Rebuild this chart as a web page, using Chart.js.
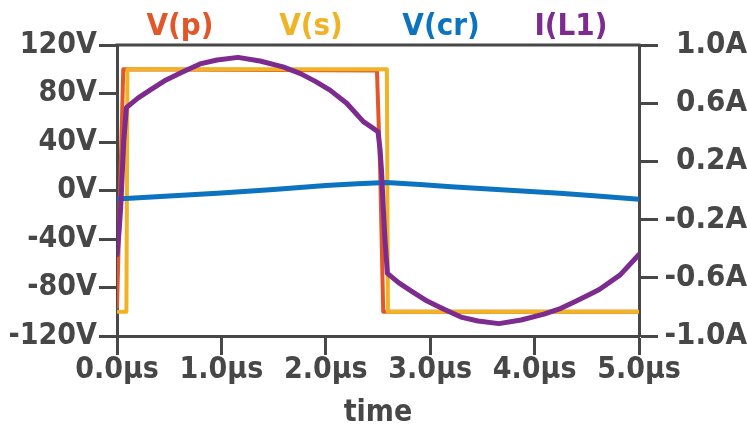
<!DOCTYPE html>
<html>
<head>
<meta charset="utf-8">
<script src="https://cdn.jsdelivr.net/npm/chart.js@4/dist/chart.umd.min.js"></script>
<style>
  html, body { margin: 0; background: #fff; }
  #wrap { width: 747px; height: 429px; }
</style>
</head>
<body>
<div id="wrap"><canvas class="js-chart" width="747" height="429"></canvas></div>
<script>
const FONT = "'DejaVu Sans Condensed', 'DejaVu Sans', sans-serif";
const INK = "#474747";

const SERIES_NAMES = ["V(p)", "V(s)", "V(cr)", "I(L1)"];
const SERIES_COLORS = ["#e2572a", "#f0b325", "#0c73bf", "#7d2b8f"];

// primary winding voltage (V)
const vpTime = [0, 0.03, 0.06, 2.49, 2.52, 2.55, 5.0];
const vpVolts = [-96, 0, 100, 99, 20, -100, -100];

// secondary voltage (V)
const vsTime = [0, 0.09, 0.1, 2.585, 2.595, 5.0];
const vsVolts = [-100, -100, 100, 100, -100, -100];

// resonant cap voltage (V)
const vcrTime = [0, 0.5, 1.0, 1.5, 2.0, 2.3, 2.58, 2.9, 3.2, 3.6, 4.0, 4.24, 4.6, 5.0];
const vcrVolts = [-7, -4.6, -2, 0.8, 4.2, 5.5, 6.5, 5, 3, 1, -1, -2.3, -4.6, -7.3];

// inductor current (A)
const ilTime = [0, 0.02, 0.035, 0.05, 0.065, 0.09, 0.2, 0.316, 0.47, 0.632, 0.795, 0.958, 1.159,
  1.37, 1.59, 1.753, 1.9, 2.04, 2.2, 2.36, 2.455, 2.5, 2.52, 2.535, 2.55, 2.567, 2.59,
  2.7, 2.816, 2.97, 3.132, 3.295, 3.458, 3.659, 3.87, 4.09, 4.253, 4.4, 4.54, 4.62, 4.82, 5.0];
const ilAmps = [-0.44, -0.28, -0.12, 0.11, 0.34, 0.57, 0.635, 0.69, 0.76, 0.816, 0.87, 0.897, 0.915,
  0.89, 0.85, 0.805, 0.75, 0.69, 0.6, 0.473, 0.427, 0.404, 0.28, 0.12, -0.11, -0.34, -0.57,
  -0.635, -0.69, -0.76, -0.816, -0.87, -0.897, -0.915, -0.89, -0.85, -0.81, -0.76, -0.71, -0.68, -0.58, -0.44];

const timeTicks = [0, 1, 2, 3, 4, 5];
const voltTicks = [-120, -80, -40, 0, 40, 80, 120];
const ampTicks = [-1.0, -0.6, -0.2, 0.2, 0.6, 1.0];

// where each trace name sits along the top
const legendCenters = [180, 311, 441, 571];

const ctx = document.querySelector(".js-chart").getContext("2d");

Chart.defaults.font.family = FONT;
Chart.defaults.font.weight = "bold";
Chart.defaults.font.size = 30;
Chart.defaults.color = INK;

function points(xs, ys) {
  return xs.map((x, i) => ({ x, y: ys[i] }));
}

function fixedTicks(values) {
  return (axis) => {
    axis.ticks = values.map((value) => ({ value }));
  };
}

// legend text in trace colours, spread across the top
const traceLegend = {
  id: "traceLegend",
  afterDraw(chart) {
    const { ctx } = chart;
    ctx.save();
    ctx.font = `bold 31px ${FONT}`;
    ctx.textBaseline = "alphabetic";
    ctx.textAlign = "center";
    chart.data.datasets.forEach((d, i) => {
      ctx.fillStyle = d.borderColor;
      ctx.fillText(d.label, legendCenters[i], 35);
    });
    ctx.restore();
  },
};

// top edge of the plot box
const topEdge = {
  id: "topEdge",
  beforeDatasetsDraw(chart) {
    const { ctx, chartArea } = chart;
    ctx.save();
    ctx.strokeStyle = INK;
    ctx.lineWidth = 3;
    ctx.beginPath();
    ctx.moveTo(chartArea.left - 1.5, chartArea.top);
    ctx.lineTo(chartArea.right + 1.5, chartArea.top);
    ctx.stroke();
    ctx.restore();
  },
};

const axisGrid = (len) => ({
  drawOnChartArea: false,
  drawTicks: true,
  tickLength: len,
  tickWidth: 3,
  tickColor: INK,
});
const axisBorder = { display: true, width: 3, color: INK };

new Chart(ctx, {
  type: "line",
  data: {
    datasets: [
      {
        label: SERIES_NAMES[0],
        data: points(vpTime, vpVolts),
        borderColor: SERIES_COLORS[0],
        borderWidth: 4,
        yAxisID: "y",
        order: 4,
      },
      {
        label: SERIES_NAMES[1],
        data: points(vsTime, vsVolts),
        borderColor: SERIES_COLORS[1],
        borderWidth: 4,
        yAxisID: "y",
        order: 3,
      },
      {
        label: SERIES_NAMES[2],
        data: points(vcrTime, vcrVolts),
        borderColor: SERIES_COLORS[2],
        borderWidth: 5,
        yAxisID: "y",
        order: 2,
      },
      {
        label: SERIES_NAMES[3],
        data: points(ilTime, ilAmps),
        borderColor: SERIES_COLORS[3],
        borderWidth: 5,
        yAxisID: "y1",
        order: 1,
      },
    ],
  },
  options: {
    responsive: false,
    animation: false,
    layout: { padding: { top: 45, left: 0, right: 0, bottom: 0 } },
    elements: { point: { radius: 0 }, line: { tension: 0, borderCapStyle: "round", borderJoinStyle: "round" } },
    plugins: {
      legend: { display: false },
      tooltip: { enabled: false },
    },
    scales: {
      x: {
        type: "linear",
        position: "bottom",
        min: 0,
        max: 5,
        afterBuildTicks: fixedTicks(timeTicks),
        afterFit(scale) { scale.height = 93; },
        grid: axisGrid(19),
        border: axisBorder,
        ticks: {
          padding: -3,
          maxRotation: 0,
          callback: (v) => v.toFixed(1) + "µs",
        },
        title: {
          display: true,
          text: "time",
          font: { size: 30, weight: "bold" },
          padding: { top: 0, bottom: -2 },
        },
      },
      y: {
        position: "left",
        min: -120,
        max: 120,
        afterBuildTicks: fixedTicks(voltTicks),
        afterFit(scale) { scale.width = 117; },
        grid: axisGrid(18),
        border: axisBorder,
        ticks: {
          padding: 2,
          callback: (v) => v + "V",
        },
      },
      y1: {
        position: "right",
        min: -1,
        max: 1,
        afterBuildTicks: fixedTicks(ampTicks),
        afterFit(scale) { scale.width = 108; },
        grid: axisGrid(19),
        border: axisBorder,
        ticks: {
          padding: -3,
          crossAlign: "far",
          font: { size: 31, weight: "bold" },
          callback: (v) => v.toFixed(1) + "A",
        },
      },
    },
  },
  plugins: [topEdge, traceLegend],
});
</script>
</body>
</html>
